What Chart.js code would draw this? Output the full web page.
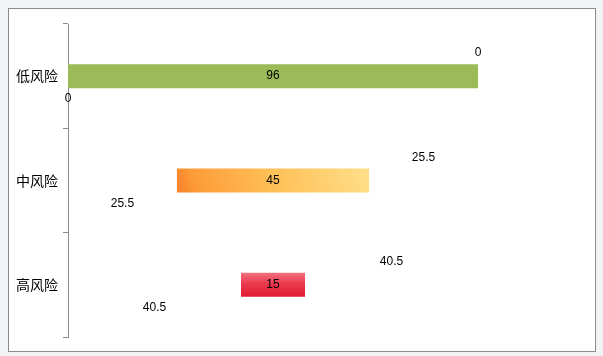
<!DOCTYPE html>
<html>
<head>
<meta charset="utf-8">
<script src="https://cdn.jsdelivr.net/npm/chart.js@4/dist/chart.umd.min.js"></script>
<style>
html,body{margin:0;padding:0;background:#f2f3f5;}
#wrap{position:absolute;left:0;top:0;width:603px;height:356px;}
</style>
</head>
<body>
<div id="wrap"><canvas id="c" width="603" height="356"></canvas></div>
<script>
const categories = ['低风险', '中风险', '高风险'];
const leftPad = [0, 25.5, 40.5];
const values = [96, 45, 15];
const rightPad = [0, 25.5, 40.5];

const frame = {
  id: 'frame',
  beforeDraw(chart) {
    const c = chart.ctx;
    c.save();
    c.fillStyle = '#f2f3f5';
    c.fillRect(0, 0, chart.width, chart.height);
    c.fillStyle = '#ffffff';
    c.fillRect(8, 8, 587, 343);
    c.strokeStyle = '#8c8c8c';
    c.lineWidth = 1;
    c.strokeRect(8.5, 8.5, 587, 343);
    c.restore();
  }
};

const labelsPlugin = {
  id: 'valLabels',
  afterDatasetsDraw(chart) {
    const c = chart.ctx;
    c.save();
    c.font = '12px "Liberation Sans", Arial, sans-serif';
    c.fillStyle = '#000';
    c.textAlign = 'center';
    c.textBaseline = 'middle';
    chart.data.datasets.forEach((ds, di) => {
      const meta = chart.getDatasetMeta(di);
      meta.data.forEach((el, i) => {
        const cx = (el.x + el.base) / 2;
        let cy = el.y;
        if (di === 0) cy += 23;
        if (di === 2) cy -= 23;
        c.fillText(String(ds.data[i]), cx, cy);
      });
    });
    c.restore();
  }
};

function barFill(ctx) {
  const chart = ctx.chart;
  const i = ctx.dataIndex;
  if (i === 0) return '#9bbb59';
  const xs = chart.scales.x, ys = chart.scales.y;
  if (!xs || !ys || !chart.chartArea) return i === 1 ? '#ffb347' : '#e8283e';
  const x0 = xs.getPixelForValue(leftPad[i]);
  const x1 = xs.getPixelForValue(leftPad[i] + values[i]);
  const yc = ys.getPixelForValue(i);
  const yt = yc - 12, yb = yc + 12;
  const c = chart.ctx;
  let g;
  if (i === 1) {
    g = c.createLinearGradient(x0, yb + 10, x1, yt - 30);
    g.addColorStop(0, '#f77d27');
    g.addColorStop(0.12, '#fd9c3a');
    g.addColorStop(0.5, '#ffc159');
    g.addColorStop(1, '#ffe28e');
  } else {
    g = c.createLinearGradient(0, yt, 0, yb);
    g.addColorStop(0, '#f2707e');
    g.addColorStop(0.45, '#ea3a4e');
    g.addColorStop(1, '#df1a30');
  }
  return g;
}

new Chart(document.getElementById('c'), {
  type: 'bar',
  data: {
    labels: categories,
    datasets: [
      { data: leftPad, backgroundColor: 'rgba(0,0,0,0)', barPercentage: 0.23, categoryPercentage: 1 },
      { data: values, backgroundColor: barFill, barPercentage: 0.23, categoryPercentage: 1 },
      { data: rightPad, backgroundColor: 'rgba(0,0,0,0)', barPercentage: 0.23, categoryPercentage: 1 }
    ]
  },
  options: {
    indexAxis: 'y',
    responsive: false,
    animation: false,
    layout: { padding: { top: 24, bottom: 19, right: 125, left: 0 } },
    plugins: { legend: { display: false }, tooltip: { enabled: false } },
    scales: {
      x: { stacked: true, display: false, min: 0, max: 96 },
      y: {
        stacked: true,
        afterFit(s) { s.width = 68; },
        grid: { offset: true, drawOnChartArea: false, drawTicks: true, tickLength: 5, color: '#8c8c8c' },
        border: { display: true, color: '#8c8c8c', width: 1 },
        ticks: { color: '#000', padding: 5, font: { family: '"Noto Sans CJK SC"', size: 14 } }
      }
    }
  },
  plugins: [frame, labelsPlugin]
});
</script>
</body>
</html>
